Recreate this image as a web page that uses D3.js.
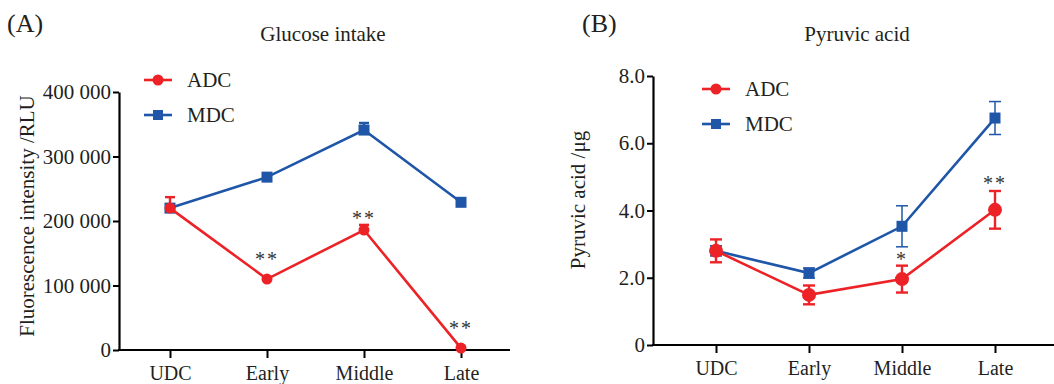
<!DOCTYPE html>
<html>
<head>
<meta charset="utf-8">
<script src="https://cdn.jsdelivr.net/npm/d3@7"></script>
<style>
  body { margin: 0; background: #fff; }
  svg { display: block; font-family: "Liberation Serif", "Times New Roman", serif; }
</style>
</head>
<body>
<svg id="chart" width="1054" height="384"></svg>
<script>
const stages = ["UDC", "Early", "Middle", "Late"];

// Panel A: glucose intake (RLU), upper error bars only
const glucoseADC = [220000, 110000, 186000, 3000];
const glucoseADCErr = [17000, 2000, 8000, 2000];
const glucoseMDC = [220000, 268000, 341000, 229000];
const glucoseMDCErr = [3000, 3000, 11000, 2000];
const glucoseStars = ["", "**", "**", "**"];
const glucoseTicks = [0, 100000, 200000, 300000, 400000];

// Panel B: pyruvic acid (µg), symmetric error bars
const pyruvicADC = [2.8, 1.49, 1.96, 4.02];
const pyruvicADCErr = [0.34, 0.28, 0.4, 0.56];
const pyruvicMDC = [2.8, 2.14, 3.53, 6.75];
const pyruvicMDCErr = [0.15, 0.15, 0.61, 0.49];
const pyruvicStars = ["", "", "*", "**"];
const pyruvicTicks = [0, 2, 4, 6, 8];

const red = "#ec2227";
const blue = "#1f56a8";
const ink = "#231f20";
const serif = "'Liberation Serif', 'Times New Roman', serif";

const svg = d3.select("#chart");

function drawPanel(cfg) {
  const g = svg.append("g");
  const x = d3.scalePoint().domain(stages).range(cfg.xRange);
  const y = d3.scaleLinear().domain([0, cfg.yMax]).range(cfg.yRange);

  // y axis
  const yAxis = g.append("g")
    .attr("transform", `translate(${cfg.axisX},0)`)
    .call(d3.axisLeft(y).tickValues(cfg.ticks).tickSize(6).tickSizeOuter(0).tickPadding(2).tickFormat(cfg.fmt))
    .attr("font-family", serif).attr("font-size", 21);
  yAxis.select(".domain").attr("stroke", "#000").attr("stroke-width", 2.2);
  yAxis.selectAll(".tick line").attr("stroke", "#000").attr("stroke-width", 2);
  yAxis.selectAll("text").attr("fill", ink);

  // x axis
  const xAxis = g.append("g")
    .attr("transform", `translate(0,${cfg.yRange[0]})`)
    .call(d3.axisBottom(x).tickSize(8).tickSizeOuter(0).tickPadding(8))
    .attr("font-family", serif).attr("font-size", 20);
  xAxis.select(".domain").remove();
  xAxis.append("line")
    .attr("x1", cfg.axisX - 1).attr("x2", cfg.axisEnd)
    .attr("stroke", "#000").attr("stroke-width", 2.2);
  xAxis.selectAll(".tick line").attr("stroke", "#000").attr("stroke-width", 2);
  xAxis.selectAll("text").attr("fill", ink);

  // axis title
  g.append("text")
    .attr("transform", `translate(${cfg.yLabelX},${cfg.yLabelY}) rotate(-90)`)
    .attr("text-anchor", "middle")
    .attr("fill", ink)
    .style("font-size", "21px")
    .text(cfg.yLabel);

  // panel letter and title
  g.append("text").attr("x", cfg.letterX).attr("y", 32)
    .attr("fill", ink).style("font-size", "26px").text(cfg.letter);
  g.append("text").attr("x", cfg.titleX).attr("y", 41)
    .attr("text-anchor", "middle").attr("fill", ink)
    .style("font-size", "21px").text(cfg.title);

  const line = d3.line().x((d, i) => x(stages[i])).y(d => y(d));

  const series = [
    { vals: cfg.mdc, err: cfg.mdcErr, color: blue, shape: "square", ew: cfg.mdcErrWidth },
    { vals: cfg.adc, err: cfg.adcErr, color: red, shape: "circle", ew: 2.4 }
  ];

  series.forEach(s => {
    g.append("path").datum(s.vals)
      .attr("fill", "none").attr("stroke", s.color).attr("stroke-width", 2.6)
      .attr("d", line);

    s.vals.forEach((v, i) => {
      const cx = x(stages[i]);
      const top = y(v + s.err[i]);
      const bot = cfg.upperOnly ? y(v) : y(v - s.err[i]);
      const eg = g.append("g").attr("stroke", s.color).attr("stroke-width", s.ew);
      eg.append("line").attr("x1", cx).attr("x2", cx).attr("y1", top).attr("y2", bot);
      eg.append("line").attr("x1", cx - cfg.cap).attr("x2", cx + cfg.cap).attr("y1", top).attr("y2", top);
      if (!cfg.upperOnly) {
        eg.append("line").attr("x1", cx - cfg.cap).attr("x2", cx + cfg.cap).attr("y1", bot).attr("y2", bot);
      }
    });

    s.vals.forEach((v, i) => {
      const cx = x(stages[i]), cy = y(v);
      if (s.shape === "circle") {
        g.append("circle").attr("cx", cx).attr("cy", cy).attr("r", cfg.r).attr("fill", s.color);
      } else {
        g.append("rect").attr("x", cx - cfg.sq / 2).attr("y", cy - cfg.sq / 2)
          .attr("width", cfg.sq).attr("height", cfg.sq).attr("fill", s.color);
      }
    });
  });

  // significance marks
  cfg.stars.forEach((st, i) => {
    if (!st) return;
    g.append("text")
      .attr("x", x(stages[i])).attr("y", cfg.starY[i])
      .attr("text-anchor", "middle").attr("fill", "#333")
      .style("font-size", "20px").style("letter-spacing", "2px")
      .text(st);
  });

  // legend
  const leg = g.append("g");
  [["ADC", red, "circle"], ["MDC", blue, "square"]].forEach((d, i) => {
    const ly = cfg.legY + i * 35;
    leg.append("line").attr("x1", cfg.legX).attr("x2", cfg.legX + 28)
      .attr("y1", ly).attr("y2", ly).attr("stroke", d[1]).attr("stroke-width", 2.6);
    if (d[2] === "circle") {
      leg.append("circle").attr("cx", cfg.legX + 14).attr("cy", ly).attr("r", 5.5).attr("fill", d[1]);
    } else {
      leg.append("rect").attr("x", cfg.legX + 9).attr("y", ly - 5).attr("width", 10).attr("height", 10).attr("fill", d[1]);
    }
    leg.append("text").attr("x", cfg.legX + 43).attr("y", ly).attr("dy", "0.35em")
      .attr("fill", ink).style("font-size", "21px").text(d[0]);
  });
}

drawPanel({
  letter: "(A)", letterX: 7, title: "Glucose intake", titleX: 323,
  axisX: 119, axisEnd: 510, xRange: [170, 461], yRange: [350, 92], yMax: 400000,
  ticks: glucoseTicks, fmt: d => d3.format(",")(d).replace(/,/g, " "),
  yLabel: "Fluorescence intensity /RLU", yLabelX: 34, yLabelY: 216,
  adc: glucoseADC, adcErr: glucoseADCErr, mdc: glucoseMDC, mdcErr: glucoseMDCErr,
  upperOnly: true, cap: 5, r: 5.5, sq: 11, mdcErrWidth: 2.4,
  stars: glucoseStars, starY: [0, 266, 225, 335],
  legX: 144, legY: 80
});

drawPanel({
  letter: "(B)", letterX: 582, title: "Pyruvic acid", titleX: 857,
  axisX: 653, axisEnd: 1054, xRange: [716, 995], yRange: [345, 76], yMax: 8,
  ticks: pyruvicTicks, fmt: d => d === 0 ? "0" : d.toFixed(1),
  yLabel: "Pyruvic acid /μg", yLabelX: 585, yLabelY: 200,
  adc: pyruvicADC, adcErr: pyruvicADCErr, mdc: pyruvicMDC, mdcErr: pyruvicMDCErr,
  upperOnly: false, cap: 6, r: 7, sq: 11, mdcErrWidth: 1.5,
  stars: pyruvicStars, starY: [0, 0, 266, 190],
  legX: 702, legY: 89
});
</script>
</body>
</html>
